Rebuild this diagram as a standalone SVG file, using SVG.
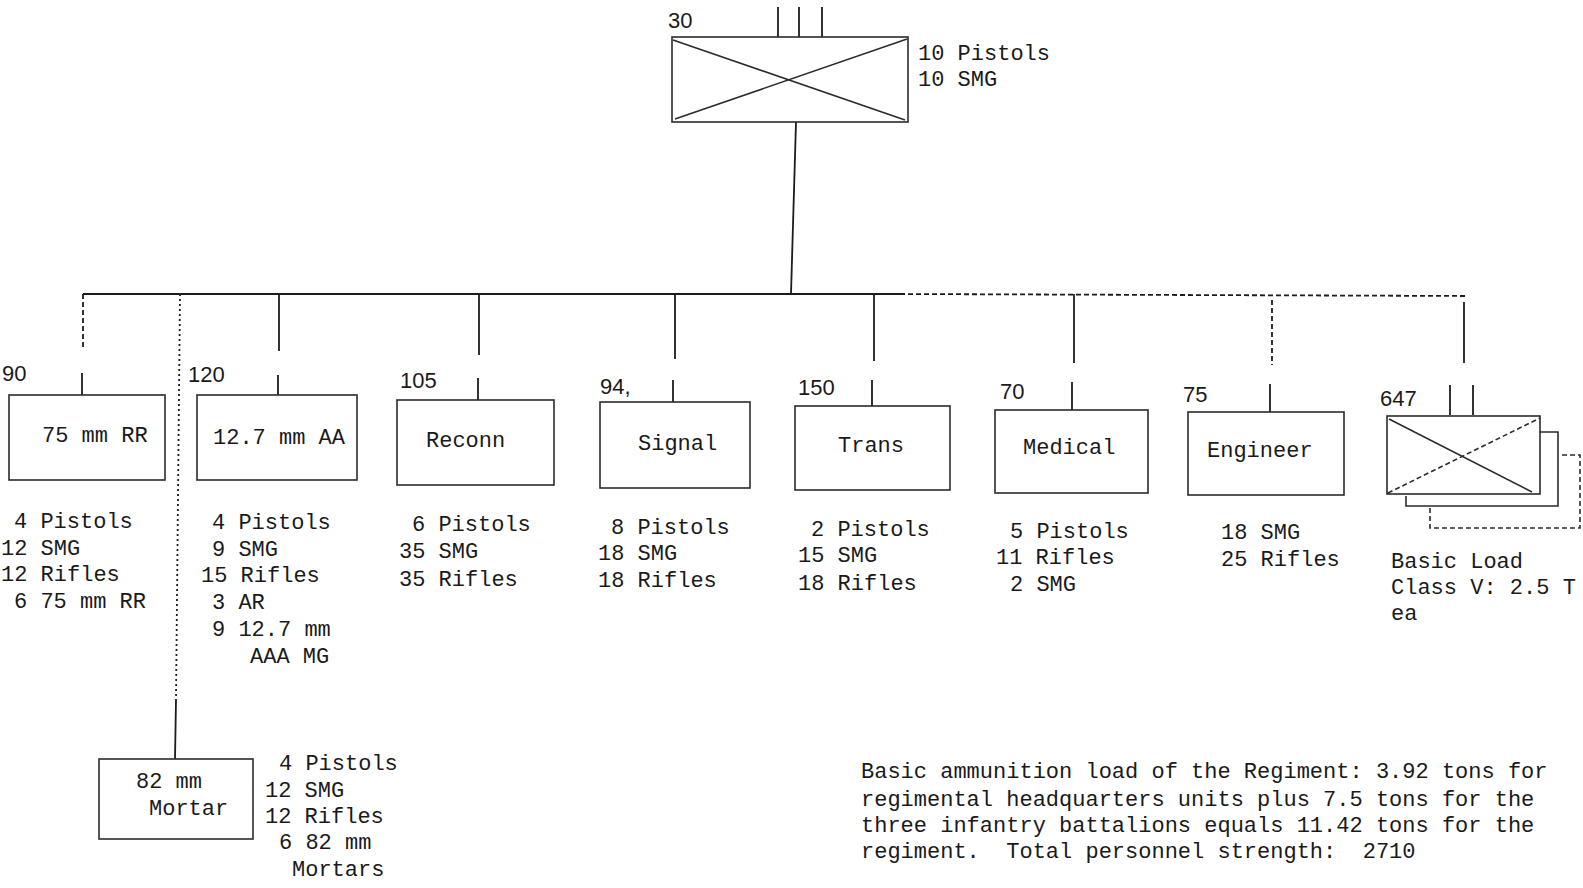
<svg xmlns="http://www.w3.org/2000/svg" width="1583" height="888" viewBox="0 0 1583 888">
<style>
.box{fill:none;stroke:#2b2b2b;stroke-width:1.6}
.ln{fill:none;stroke:#1c1c1c;stroke-width:1.8}
.dash{stroke-dasharray:5 3}
.dot{stroke-dasharray:2 3}
.t{font-family:"Liberation Mono","DejaVu Sans Mono",monospace;font-size:22px;fill:#1a1a1a}
.n{font-family:"Liberation Sans",Arial,sans-serif;font-size:22px;fill:#1a1a1a}
</style>
<rect width="1583" height="888" fill="#ffffff"/>

<g id="connectors">
  <!-- HQ to bus -->
  <line class="ln" x1="796" y1="122" x2="791" y2="294"/>
  <!-- bus -->
  <line class="ln" x1="83" y1="294" x2="900" y2="294"/>
  <line class="ln dash" x1="900" y1="294" x2="1466" y2="296"/>
  <!-- drops from bus -->
  <line class="ln dash" x1="83" y1="294" x2="83" y2="348"/>
  <line class="ln dot" x1="180" y1="294" x2="176" y2="700"/>
  <line class="ln" x1="176" y1="700" x2="175" y2="759"/>
  <line class="ln" x1="279" y1="294" x2="279" y2="351"/>
  <line class="ln" x1="479" y1="294" x2="479" y2="355"/>
  <line class="ln" x1="675" y1="294" x2="675" y2="359"/>
  <line class="ln" x1="874" y1="294" x2="874" y2="361"/>
  <line class="ln" x1="1074" y1="294" x2="1074" y2="363"/>
  <line class="ln dash" x1="1272" y1="300" x2="1272" y2="365"/>
  <line class="ln" x1="1464" y1="302" x2="1464" y2="363"/>
  <!-- ticks above unit boxes -->
  <line class="ln" x1="82" y1="373" x2="82" y2="395"/>
  <line class="ln" x1="278" y1="375" x2="278" y2="395"/>
  <line class="ln" x1="478" y1="378" x2="478" y2="400"/>
  <line class="ln" x1="673" y1="380" x2="673" y2="402"/>
  <line class="ln" x1="872" y1="380" x2="872" y2="406"/>
  <line class="ln" x1="1072" y1="382" x2="1072" y2="410"/>
  <line class="ln" x1="1270" y1="384" x2="1270" y2="412"/>
  <line class="ln" x1="1450" y1="385" x2="1450" y2="415"/>
  <line class="ln" x1="1473" y1="385" x2="1473" y2="415"/>
</g>

<g id="hq">
  <text class="n" x="668" y="28">30</text>
  <line class="ln" x1="778" y1="7" x2="778" y2="37"/>
  <line class="ln" x1="799" y1="7" x2="799" y2="37"/>
  <line class="ln" x1="822" y1="7" x2="822" y2="37"/>
  <rect class="box" x="672" y="37" width="236" height="85"/>
  <line class="box" x1="673" y1="40" x2="905" y2="120"/>
  <line class="box" x1="675" y1="119" x2="907" y2="39"/>
  <text class="t" x="918" y="60">10 Pistols</text>
  <text class="t" x="918" y="86">10 SMG</text>
</g>

<g id="rr75">
  <text class="n" x="2" y="381">90</text>
  <rect class="box" x="9" y="395" width="156" height="85"/>
  <text class="t" x="42" y="442">75 mm RR</text>
  <text class="t" x="14" y="528">4 Pistols</text>
  <text class="t" x="1" y="555">12 SMG</text>
  <text class="t" x="1" y="581">12 Rifles</text>
  <text class="t" x="14" y="608">6 75 mm RR</text>
</g>

<g id="aa127">
  <text class="n" x="188" y="382">120</text>
  <rect class="box" x="197" y="395" width="160" height="85"/>
  <text class="t" x="213" y="444">12.7 mm AA</text>
  <text class="t" x="212" y="529">4 Pistols</text>
  <text class="t" x="212" y="556">9 SMG</text>
  <text class="t" x="201" y="582">15 Rifles</text>
  <text class="t" x="212" y="609">3 AR</text>
  <text class="t" x="212" y="636">9 12.7 mm</text>
  <text class="t" x="250" y="663">AAA MG</text>
</g>

<g id="reconn">
  <text class="n" x="400" y="388">105</text>
  <rect class="box" x="397" y="400" width="157" height="85"/>
  <text class="t" x="426" y="447">Reconn</text>
  <text class="t" x="412" y="531">6 Pistols</text>
  <text class="t" x="399" y="558">35 SMG</text>
  <text class="t" x="399" y="586">35 Rifles</text>
</g>

<g id="signal">
  <text class="n" x="600" y="394">94,</text>
  <rect class="box" x="600" y="402" width="150" height="86"/>
  <text class="t" x="638" y="450">Signal</text>
  <text class="t" x="611" y="534">8 Pistols</text>
  <text class="t" x="598" y="560">18 SMG</text>
  <text class="t" x="598" y="587">18 Rifles</text>
</g>

<g id="trans">
  <text class="n" x="798" y="395">150</text>
  <rect class="box" x="795" y="406" width="155" height="84"/>
  <text class="t" x="838" y="452">Trans</text>
  <text class="t" x="811" y="536">2 Pistols</text>
  <text class="t" x="798" y="562">15 SMG</text>
  <text class="t" x="798" y="590">18 Rifles</text>
</g>

<g id="medical">
  <text class="n" x="1000" y="399">70</text>
  <rect class="box" x="995" y="410" width="153" height="83"/>
  <text class="t" x="1023" y="454">Medical</text>
  <text class="t" x="1010" y="538">5 Pistols</text>
  <text class="t" x="996" y="564">11 Rifles</text>
  <text class="t" x="1010" y="591">2 SMG</text>
</g>

<g id="engineer">
  <text class="n" x="1183" y="402">75</text>
  <rect class="box" x="1188" y="412" width="156" height="83"/>
  <text class="t" x="1207" y="457">Engineer</text>
  <text class="t" x="1221" y="539">18 SMG</text>
  <text class="t" x="1221" y="566">25 Rifles</text>
</g>

<g id="bn647">
  <text class="n" x="1380" y="406">647</text>
  <rect class="box" x="1387" y="416" width="153" height="78"/>
  <line class="box" x1="1389" y1="419" x2="1532" y2="492"/>
  <line class="box dash" x1="1388" y1="493" x2="1540" y2="418"/>
  <polyline class="box" points="1540,432 1558,432 1558,506 1406,506 1406,496"/>
  <polyline class="box dash" points="1562,455 1580,455 1580,528 1430,528 1430,508"/>
  <text class="t" x="1391" y="568">Basic Load</text>
  <text class="t" x="1391" y="594">Class V: 2.5 T</text>
  <text class="t" x="1391" y="620">ea</text>
</g>

<g id="mortar82">
  <rect class="box" x="99" y="759" width="154" height="80"/>
  <text class="t" x="136" y="788">82 mm</text>
  <text class="t" x="149" y="815">Mortar</text>
  <text class="t" x="279" y="770">4 Pistols</text>
  <text class="t" x="265" y="797">12 SMG</text>
  <text class="t" x="265" y="823">12 Rifles</text>
  <text class="t" x="279" y="849">6 82 mm</text>
  <text class="t" x="292" y="876">Mortars</text>
</g>

<g id="note">
  <text class="t" x="861" y="778">Basic ammunition load of the Regiment: 3.92 tons for</text>
  <text class="t" x="861" y="806">regimental headquarters units plus 7.5 tons for the</text>
  <text class="t" x="861" y="832">three infantry battalions equals 11.42 tons for the</text>
  <text class="t" x="861" y="858" xml:space="preserve">regiment.  Total personnel strength:  2710</text>
</g>
</svg>
